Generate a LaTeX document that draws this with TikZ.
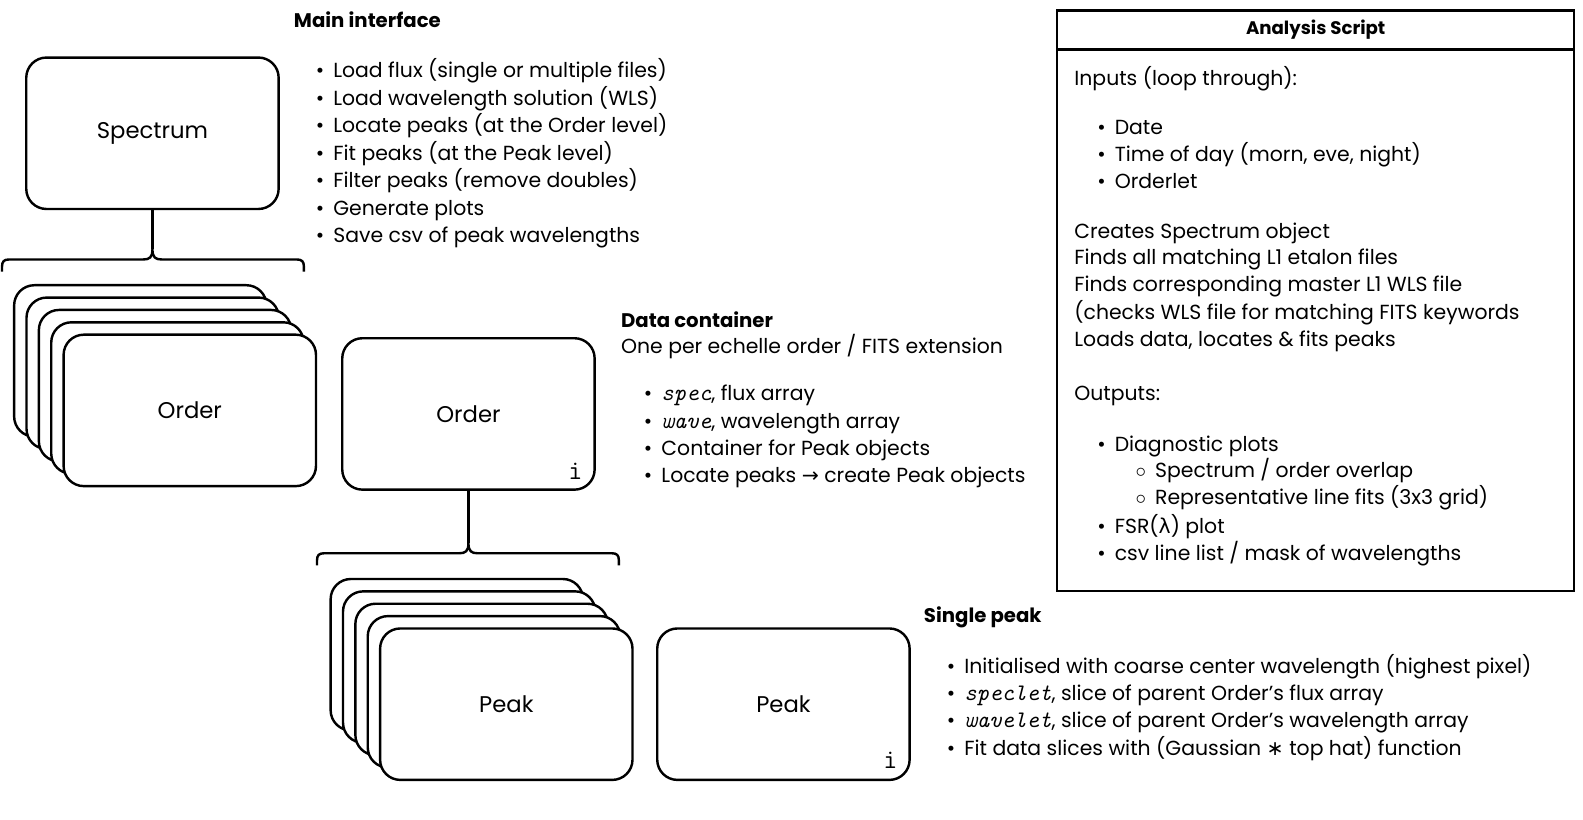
\documentclass[tikz,border=0pt]{standalone}
\usepackage{fontspec}
\setmainfont{Poppins}
\newfontfamily\symfont{DejaVu Sans}
\newcommand\itembul{\llap{\textbullet\hspace{9pt}}}
\newcommand\itemcirc{\llap{$\circ$\hspace{9pt}}}
\newcommand\code[1]{{\fontsize{23.5}{24}\selectfont\ttfamily\itshape #1}}

\tikzset{
  obj/.style={draw, line width=2.4pt, rounded corners=20pt, fill=white,
    minimum width=250pt, minimum height=150pt, inner sep=0pt,
    font=\fontsize{22.5}{26}\selectfont},
  body/.style={anchor=base west, inner sep=0pt, font=\fontsize{20.2}{24}\selectfont},
  head/.style={anchor=base west, inner sep=0pt, font=\fontsize{19.5}{23}\selectfont\bfseries},
  conn/.style={line width=2.4pt, line join=round},
  idx/.style={anchor=base east, inner sep=0pt, font=\fontsize{27}{28}\ttfamily},
  frame/.style={draw, line width=2.4pt, inner sep=0pt, anchor=north west}
}

\begin{document}
\begin{tikzpicture}[x=1pt, y=-1pt]
\useasboundingbox (0,0) rectangle (1568,812);

% ---------- Spectrum ----------
\node[head] (mihead) at (291,27) {Main interface};
\node[obj] (spec) at (151,132) {Spectrum};
\foreach \t [count=\i] in {
  {Load flux (single or multiple files)},
  {Load wavelength solution (WLS)},
  {Locate peaks (at the Order level)},
  {Fit peaks (at the Peak level)},
  {Filter peaks (remove doubles)},
  {Generate plots},
  {Save csv of peak wavelengths}}
  \node[body] (mi\i) at (330,{77+27.2*(\i-1)}) {\itembul\t};

% brace below Spectrum
\coordinate (b1) at (151,247);
\draw[conn] (2,269) -- (2,264) .. controls (2,259) and (4,257) .. (9,257)
  -- (142,257) .. controls (148,257) and (151,255) .. (b1)
  .. controls (151,255) and (154,257) .. (160,257)
  -- (294,257) .. controls (299,257) and (301,259) .. (301,264) -- (301,269);
\draw[conn] (spec.south) -- (b1);

% ---------- Order stack ----------
\foreach \k in {4,3,2,1}
  \node[obj] (os\k) at ({188-12.25*\k},{406.5-12.25*\k}) {};
\node[obj] (os0) at (188,406.5) {Order};

\node[obj] (ord) at (464,410) {Order};
\node[idx] (ordi) at (577,475) {i};

\node[head] (dchead) at (615,324) {Data container};
\node[body] (dcsub) at (615,350) {One per echelle order / FITS extension};
\node[body] (dc1) at (655,397) {\itembul\code{spec}, flux array};
\node[body] (dc2) at (655,424) {\itembul\code{wave}, wavelength array};
\node[body] (dc3) at (655,451) {\itembul Container for Peak objects};
\node[body] (dc4) at (655,478) {\itembul Locate peaks {\symfont →} create Peak objects};

% brace below Order
\coordinate (b2) at (464,538);
\draw[conn] (314,560) -- (314,555) .. controls (314,550) and (316,548) .. (321,548)
  -- (455,548) .. controls (461,548) and (464,546) .. (b2)
  .. controls (464,546) and (467,548) .. (473,548)
  -- (606,548) .. controls (611,548) and (613,550) .. (613,555) -- (613,560);
\draw[conn] (ord.south) -- (b2);

% ---------- Peak stack ----------
\foreach \k in {4,3,2,1}
  \node[obj] (ps\k) at ({501.5-12.25*\k},{697.5-12.25*\k}) {};
\node[obj] (ps0) at (501.5,697.5) {Peak};

\node[obj] (pk) at (776,697.5) {Peak};
\node[idx] (pki) at (889,761) {i};

\node[head] (sphead) at (915,617) {Single peak};
\node[body] (sp1) at (955,667) {\itembul Initialised with coarse center wavelength (highest pixel)};
\node[body] (sp2) at (955,694) {\itembul\code{speclet}, slice of parent Order’s flux array};
\node[body] (sp3) at (955,721) {\itembul\code{wavelet}, slice of parent Order’s wavelength array};
\node[body] (sp4) at (955,748) {\itembul Fit data slices with (Gaussian {\symfont ∗} top hat) function};

% ---------- Analysis script ----------
\node[frame, minimum width=512pt, minimum height=39pt] (anh) at (1046,9) {};
\node[frame, minimum width=512pt, minimum height=536pt] (anb) at (1046,48) {};
\node[inner sep=0pt, font=\fontsize{18}{22}\selectfont\bfseries] (antitle) at (anh.center) {Analysis Script};

\node[body] (a1) at (1064,85) {Inputs (loop through):};
\node[body] (a2) at (1104,133) {\itembul Date};
\node[body] (a3) at (1104,160) {\itembul Time of day (morn, eve, night)};
\node[body] (a4) at (1104,187) {\itembul Orderlet};
\node[body] (a5) at (1064,236) {Creates Spectrum object};
\node[body] (a6) at (1064,262) {Finds all matching L1 etalon files};
\node[body] (a7) at (1064,289) {Finds corresponding master L1 WLS file};
\node[body] (a8) at (1064,316) {(checks WLS file for matching FITS keywords};
\node[body] (a9) at (1064,343) {Loads data, locates \& fits peaks};
\node[body] (a10) at (1064,397) {Outputs:};
\node[body] (a11) at (1104,447) {\itembul Diagnostic plots};
\node[body] (a12) at (1144,473) {\itemcirc Spectrum / order overlap};
\node[body] (a13) at (1144,500) {\itemcirc Representative line fits (3x3 grid)};
\node[body] (a14) at (1104,528) {\itembul FSR({\symfont λ}) plot};
\node[body] (a15) at (1104,555) {\itembul csv line list / mask of wavelengths};
\end{tikzpicture}
\end{document}
